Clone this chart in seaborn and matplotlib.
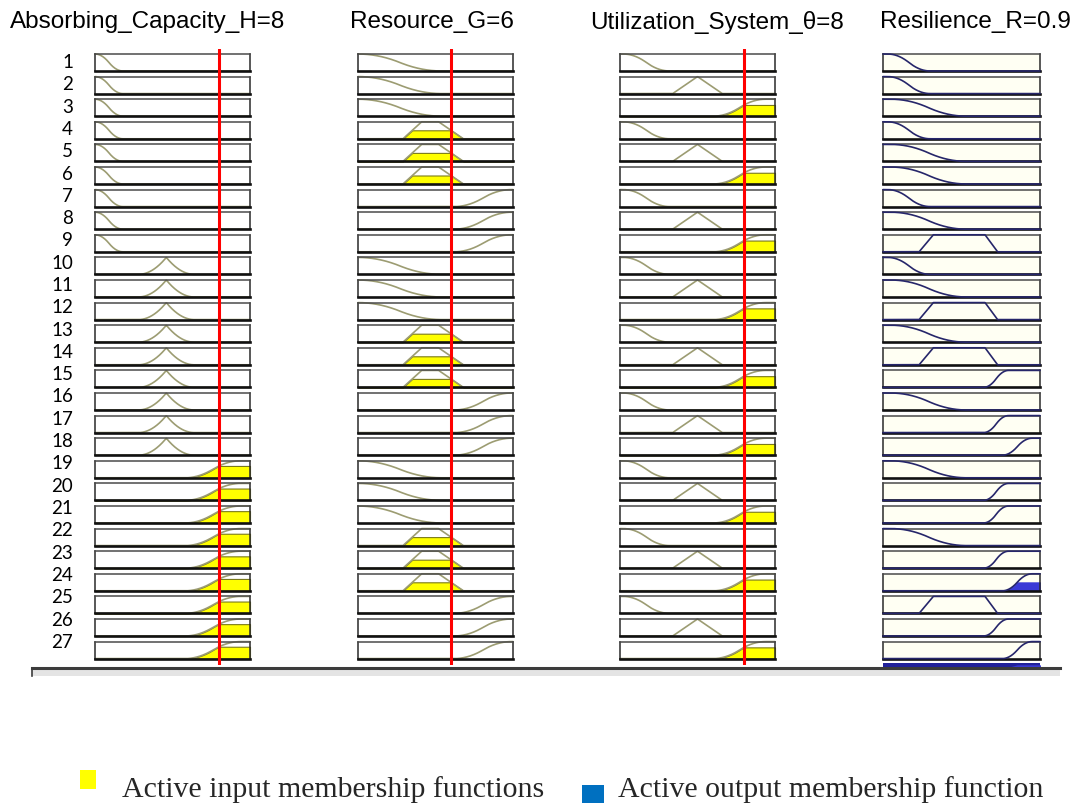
import numpy as np
import matplotlib
matplotlib.use("Agg")
import matplotlib.pyplot as plt
import seaborn as sns

# ---------------------------------------------------------------- data
input_names = ["Absorbing_Capacity_H", "Resource_G", "Utilization_System_θ"]
input_values = [8, 6, 8]
input_ranges = [(0, 10), (0, 10), (0, 10)]
output_name = "Resilience_R"
output_value = 0.9
output_range = (0, 1)

# membership functions of each variable: (shape, parameters)
mf_H = {"L": ("z", [0.0, 1.8]), "M": ("cusp", [4.6, 1.8]), "H": ("s", [5.8, 9.4])}
mf_G = {"L": ("z", [0.0, 5.4]), "M": ("trap", [2.9, 4.1, 5.2, 6.8]), "H": ("s", [6.2, 9.9])}
mf_T = {"L": ("z", [0.2, 3.2]), "M": ("tri", [3.4, 5.0, 6.6]), "H": ("s", [6.0, 9.4])}
mf_R = {"L": ("z", [0.03, 0.30]), "ML": ("z", [0.05, 0.53]),
        "M": ("trap", [0.23, 0.32, 0.65, 0.73]),
        "H": ("s", [0.64, 0.80]), "VH": ("s", [0.76, 0.95])}

# rule base: antecedent terms and consequent term of rules 1..27
rule_H = ["L", "L", "L", "L", "L", "L", "L", "L", "L",
          "M", "M", "M", "M", "M", "M", "M", "M", "M",
          "H", "H", "H", "H", "H", "H", "H", "H", "H"]
rule_G = ["L", "L", "L", "M", "M", "M", "H", "H", "H",
          "L", "L", "L", "M", "M", "M", "H", "H", "H",
          "L", "L", "L", "M", "M", "M", "H", "H", "H"]
rule_T = ["L", "M", "H", "L", "M", "H", "L", "M", "H",
          "L", "M", "H", "L", "M", "H", "L", "M", "H",
          "L", "M", "H", "L", "M", "H", "L", "M", "H"]
rule_R = ["L", "L", "ML", "L", "ML", "ML", "L", "ML", "M",
          "L", "ML", "M", "ML", "M", "H", "ML", "H", "VH",
          "ML", "H", "H", "ML", "H", "VH", "M", "H", "VH"]
rule_numbers = list(range(1, 28))


def smf(x, a, b):
    m = (a + b) / 2
    return np.where(x <= a, 0.0,
           np.where(x <= m, 2 * ((x - a) / (b - a)) ** 2,
           np.where(x <= b, 1 - 2 * ((x - b) / (b - a)) ** 2, 1.0)))


def evaluate(mf, x):
    kind, p = mf
    x = np.asarray(x, dtype=float)
    if kind == "s":
        return smf(x, *p)
    if kind == "z":
        return 1 - smf(x, *p)
    if kind == "cusp":
        c, w = p
        return np.clip(1 - np.abs(x - c) / w, 0, 1) ** 2
    if kind == "tri":
        a, b, c = p
        return np.clip(np.minimum((x - a) / (b - a), (c - x) / (c - b)), 0, 1)
    a, b, c, d = p
    return np.clip(np.minimum((x - a) / (b - a), (d - x) / (d - c)), 0, 1)


# ---------------------------------------------------------------- style
sns.set_theme(style="white")
plt.rcParams["font.family"] = ["Liberation Sans", "DejaVu Sans"]

W, H = 1075, 804
fig = plt.figure(figsize=(W / 100, H / 100), dpi=100)
fig.patch.set_facecolor("white")

COL_X = [(95, 250), (358, 513), (620, 775), (883, 1040)]
TITLE_X = [10, 350, 590, 880]
BOX_TOP0, ROW_PITCH, BOX_H = 55, 22.6, 17.0

IN_LINE = "#9c9c72"
OUT_LINE = "#26266a"
YELLOW = "#ffff00"
BLUE = "#3a3ad6"
RED = "#ff0000"


def px_axes(x0, x1, top, bottom):
    return fig.add_axes([x0 / W, 1 - bottom / H, (x1 - x0) / W, (bottom - top) / H])


def bare(ax, face):
    ax.set_facecolor(face)
    ax.set_xticks([])
    ax.set_yticks([])
    for s in ax.spines.values():
        s.set_visible(False)


def style_box(ax, face):
    ax.set_facecolor(face)
    ax.set_xticks([])
    ax.set_yticks([])
    for side in ("left", "right"):
        ax.spines[side].set_visible(True)
        ax.spines[side].set_color("#2a2a2a")
        ax.spines[side].set_linewidth(1.1)
    ax.spines["top"].set_visible(True)
    ax.spines["top"].set_color("#4a4a4a")
    ax.spines["top"].set_linewidth(1.1)
    ax.spines["bottom"].set_visible(True)
    ax.spines["bottom"].set_color("#111111")
    ax.spines["bottom"].set_linewidth(1.9)


input_mfs = [mf_H, mf_G, mf_T]
rule_terms = [rule_H, rule_G, rule_T]

# membership degree of each input in each rule, and rule firing strengths
degrees = [[float(evaluate(input_mfs[c][t], input_values[c])) for t in rule_terms[c]]
           for c in range(3)]
firing = [min(degrees[0][i], degrees[1][i], degrees[2][i]) for i in range(27)]

xs_out = np.linspace(*output_range, 400)
aggregate = np.zeros_like(xs_out)

for i, rule in enumerate(rule_numbers):
    top = BOX_TOP0 + i * ROW_PITCH
    bottom = top + BOX_H
    # input columns
    for c in range(3):
        lo, hi = input_ranges[c]
        xs = np.linspace(lo, hi, 400)
        mu = evaluate(input_mfs[c][rule_terms[c][i]], xs)
        ax = px_axes(COL_X[c][0], COL_X[c][1], top, bottom)
        style_box(ax, "white")
        level = degrees[c][i]
        if level > 0.01:
            ax.fill_between(xs, 0, np.minimum(mu, level), facecolor=YELLOW,
                            edgecolor="#7a7a1a", linewidth=0.8, zorder=1.5,
                            clip_on=False)
        sns.lineplot(x=xs, y=mu, ax=ax, color=IN_LINE, linewidth=1.2,
                     estimator=None, clip_on=False, zorder=2)
        ax.set_xlim(lo, hi)
        ax.set_ylim(0, 1)
    # output column
    mu_out = evaluate(mf_R[rule_R[i]], xs_out)
    ax = px_axes(COL_X[3][0], COL_X[3][1], top, bottom)
    style_box(ax, "#fffff3")
    if firing[i] > 0.01:
        clipped = np.minimum(mu_out, firing[i])
        aggregate = np.maximum(aggregate, clipped)
        ax.fill_between(xs_out, 0, clipped, facecolor=BLUE, edgecolor=BLUE,
                        linewidth=0.6, zorder=1.5)
    sns.lineplot(x=xs_out, y=mu_out, ax=ax, color=OUT_LINE, linewidth=1.2,
                 estimator=None, clip_on=False, zorder=3)
    ax.set_xlim(*output_range)
    ax.set_ylim(0, 1)

    # rule number
    fig.text(73 / W, 1 - (68 + i * 22.3) / H, str(rule), ha="right", va="baseline",
             fontsize=13.5, color="black", family=["Lato", "DejaVu Sans"])

# aggregated output strip under the last rule
agg_ax = px_axes(COL_X[3][0], COL_X[3][1], 664, 669)
bare(agg_ax, "#22229a")
agg_ax.fill_between(xs_out, 0, aggregate, color=BLUE)
agg_ax.set_xlim(*output_range)
agg_ax.set_ylim(0, 1)

# frame rule along the bottom of the rule panel
base_ax = px_axes(32, 1060, 669, 677)
bare(base_ax, "#e4e4e4")
base_ax.spines["top"].set_visible(True)
base_ax.spines["top"].set_color("#3c3c3c")
base_ax.spines["top"].set_linewidth(2.2)
base_ax.spines["left"].set_visible(True)
base_ax.spines["left"].set_color("#3c3c3c")
base_ax.spines["left"].set_linewidth(1.2)

# red markers of the current input values
for c in range(3):
    ov = px_axes(COL_X[c][0], COL_X[c][1], 50, 666)
    ov.set_xlim(*input_ranges[c])
    ov.set_ylim(0, 1)
    ov.axvline(input_values[c], color=RED, linewidth=2.2)
    ov.set_axis_off()
    ov.set_zorder(5)

# column titles
for c in range(3):
    fig.text(TITLE_X[c] / W, 1 - 22 / H, f"{input_names[c]}={input_values[c]}",
             ha="left", va="center", fontsize=17.5, color="black")
fig.text(TITLE_X[3] / W, 1 - 22 / H, f"{output_name}={output_value}",
         ha="left", va="center", fontsize=17.5, color="black")

# legend
sq1 = px_axes(80, 96, 771, 790)
bare(sq1, "#ffff00")
sq2 = px_axes(582, 604, 786, 804)
bare(sq2, "#0070c0")
fig.text(122 / W, 1 - 797 / H, "Active input membership functions", ha="left",
         va="baseline", fontsize=21.5, family=["Liberation Serif", "DejaVu Serif"])
fig.text(618 / W, 1 - 797 / H, "Active output membership function", ha="left",
         va="baseline", fontsize=21.5, family=["Liberation Serif", "DejaVu Serif"])

fig.savefig("out.png", dpi=100, facecolor="white")
